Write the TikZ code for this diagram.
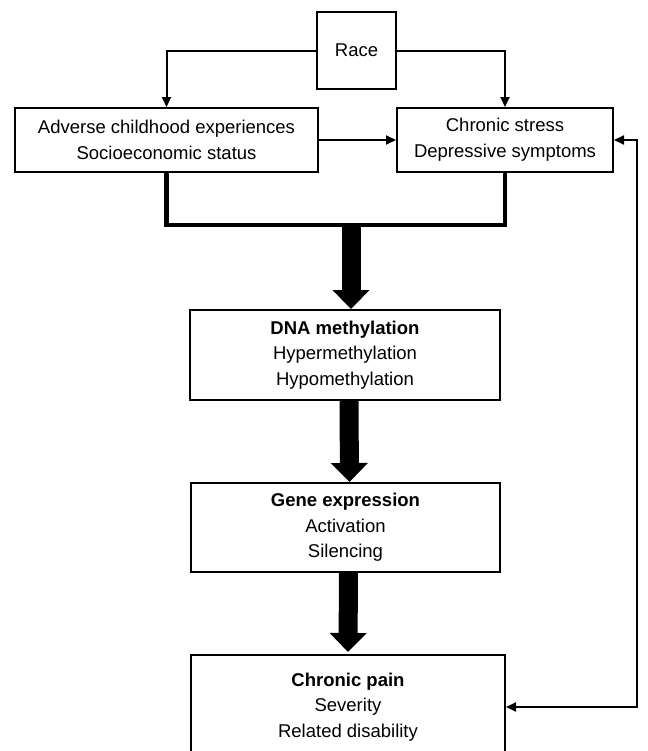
\documentclass[tikz,border=0pt]{standalone}
\usepackage{fontspec}
\setmainfont{Liberation Sans}
\usetikzlibrary{arrows.meta,positioning,calc}

\tikzset{
  box/.style={draw=black, line width=1pt, fill=white, align=center, inner sep=0pt,
    font=\fontsize{9.25}{12.8}\selectfont},
  thinarrow/.style={line width=1pt, -{Triangle[length=5pt,width=4.5pt]}},
  joinline/.style={line width=2.3pt},
  fatarrow/.style={line width=9.5pt, -{Triangle[length=9.5pt,width=18pt]}}
}

\begin{document}
\begin{tikzpicture}[x=0.5pt, y=-0.5pt]

\useasboundingbox (0,0) rectangle (648,751);

% ================= TOP: RACE AND ITS TWO PATHS =================
\node[box, minimum width=39.5pt, minimum height=38.5pt] (race) at (356.5,50.5) {Race};

\node[box, minimum width=151.5pt, minimum height=32pt] (adverse) at (166.5,140)
{Adverse childhood experiences\\Socioeconomic status};

\node[box, minimum width=108pt, minimum height=32pt] (stress) at (505,140)
{Chronic stress\\Depressive symptoms};

\draw[thinarrow] (race.west) -| (adverse.north);
\draw[thinarrow] (race.east) -| (stress.north);
\draw[thinarrow] (adverse.east) -- (stress.west);

% ================= MIDDLE: CHAIN DOWNWARDS =================
\node[box, minimum width=155pt, minimum height=45pt] (dna) at (345,355)
{\textbf{DNA methylation}\\Hypermethylation\\Hypomethylation};

\node[box, minimum width=154.5pt, minimum height=44.5pt] (gene) at (345.5,527.5)
{\textbf{Gene expression}\\Activation\\Silencing};

\node[box, minimum width=157pt, minimum height=52pt] (pain) at (348,707)
{\textbf{Chronic pain}\\Severity\\Related disability};

% joining both top boxes
\coordinate (join) at (351,225);
\draw[joinline] (adverse.south) |- (join) -| (stress.south);

% fat arrows
\draw[fatarrow] (join) -- (join |- dna.north);
\draw[fatarrow] ($(dna.south)+(4,0)$) -- ($(gene.north)+(4,0)$);
\draw[fatarrow] ($(gene.south)+(3,0)$) -- ($(pain.north)+(0,-2)$);

% ================= RIGHT: FEEDBACK =================
\coordinate (fb) at (637,420);
\draw[line width=1pt, {Triangle[length=5pt,width=4.5pt]}-{Triangle[length=5pt,width=4.5pt]}]
  (stress.east) -| (fb) |- (pain.east);

\end{tikzpicture}
\end{document}
